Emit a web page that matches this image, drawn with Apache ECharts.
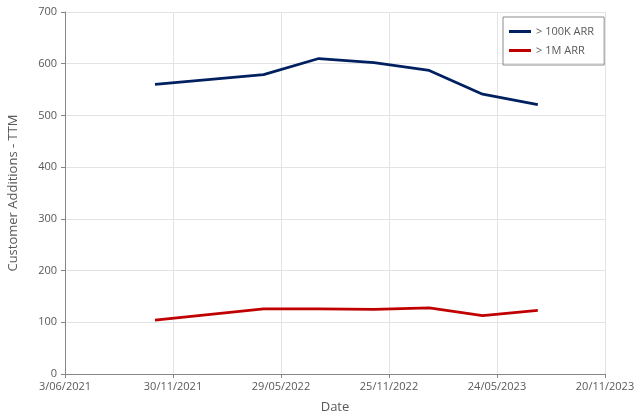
<!DOCTYPE html>
<html><head><meta charset="utf-8">
<script src="https://cdn.jsdelivr.net/npm/echarts@6/dist/echarts.min.js"></script>
<style>html,body{margin:0;padding:0;background:#fff}#c{width:640px;height:418px}</style>
</head><body><div id="c"></div>
<script>
// Data
const dates = ['2021-10-31','2022-04-30','2022-07-31','2022-10-31','2023-01-31','2023-04-30','2023-07-31'];
const arr100k = [560, 579, 610, 602, 587, 541, 521];
const arr1m = [104, 126, 126, 125, 128, 113, 123];
const seriesNames = ['> 100K ARR', '> 1M ARR'];
const axisStart = '2021-06-03';
const axisDays = 900;
const tickDays = 180;

const DAY = 86400000;
const t0 = Date.parse(axisStart + 'T00:00:00Z');
const toDay = d => Math.round((Date.parse(d + 'T00:00:00Z') - t0) / DAY);
const fmt = v => {
  const d = new Date(t0 + v * DAY);
  const mm = String(d.getUTCMonth() + 1).padStart(2, '0');
  return d.getUTCDate() + '/' + mm + '/' + d.getUTCFullYear();
};
const font = 'Open Sans';
const chart = echarts.init(document.getElementById('c'), null, {renderer: 'canvas'});
chart.setOption({
  animation: false,
  textStyle: {fontFamily: font},
  grid: {left: 65, right: 35, top: 12, bottom: 44, containLabel: false, outerBoundsMode: 'none'},
  legend: {
    orient: 'vertical', left: 503, top: 17, itemGap: 8,
    borderColor: '#8c8c8c', borderWidth: 1, padding: [9, 10, 9, 6],
    itemWidth: 22, itemHeight: 3, icon: 'rect',
    textStyle: {color: '#595959', fontSize: 11, fontFamily: font},
    data: seriesNames
  },
  xAxis: {
    type: 'value', min: 0, max: axisDays, interval: tickDays,
    name: 'Date', nameLocation: 'middle', nameGap: 27,
    nameTextStyle: {color: '#595959', fontSize: 13},
    axisLine: {show: true, lineStyle: {color: '#868686', width: 1}},
    axisTick: {show: true, length: 4, lineStyle: {color: '#868686'}},
    axisLabel: {color: '#595959', fontSize: 11, formatter: fmt, margin: 7},
    splitLine: {show: true, lineStyle: {color: '#e3e3e3'}}
  },
  yAxis: {
    type: 'value', min: 0, max: 700, interval: 100,
    name: 'Customer Additions - TTM', nameLocation: 'middle', nameGap: 45,
    nameTextStyle: {color: '#595959', fontSize: 13},
    axisLine: {show: true, lineStyle: {color: '#868686', width: 1}},
    axisTick: {show: true, length: 4, lineStyle: {color: '#868686'}},
    axisLabel: {color: '#595959', fontSize: 11, margin: 8},
    splitLine: {show: true, lineStyle: {color: '#e3e3e3'}}
  },
  series: [
    {name: seriesNames[0], type: 'line', showSymbol: false, symbol: 'none',
     lineStyle: {color: '#002060', width: 2.75}, itemStyle: {color: '#002060'},
     data: dates.map((d, i) => [toDay(d), arr100k[i]])},
    {name: seriesNames[1], type: 'line', showSymbol: false, symbol: 'none',
     lineStyle: {color: '#c00000', width: 2.75}, itemStyle: {color: '#c00000'},
     data: dates.map((d, i) => [toDay(d), arr1m[i]])}
  ]
});
</script></body></html>
